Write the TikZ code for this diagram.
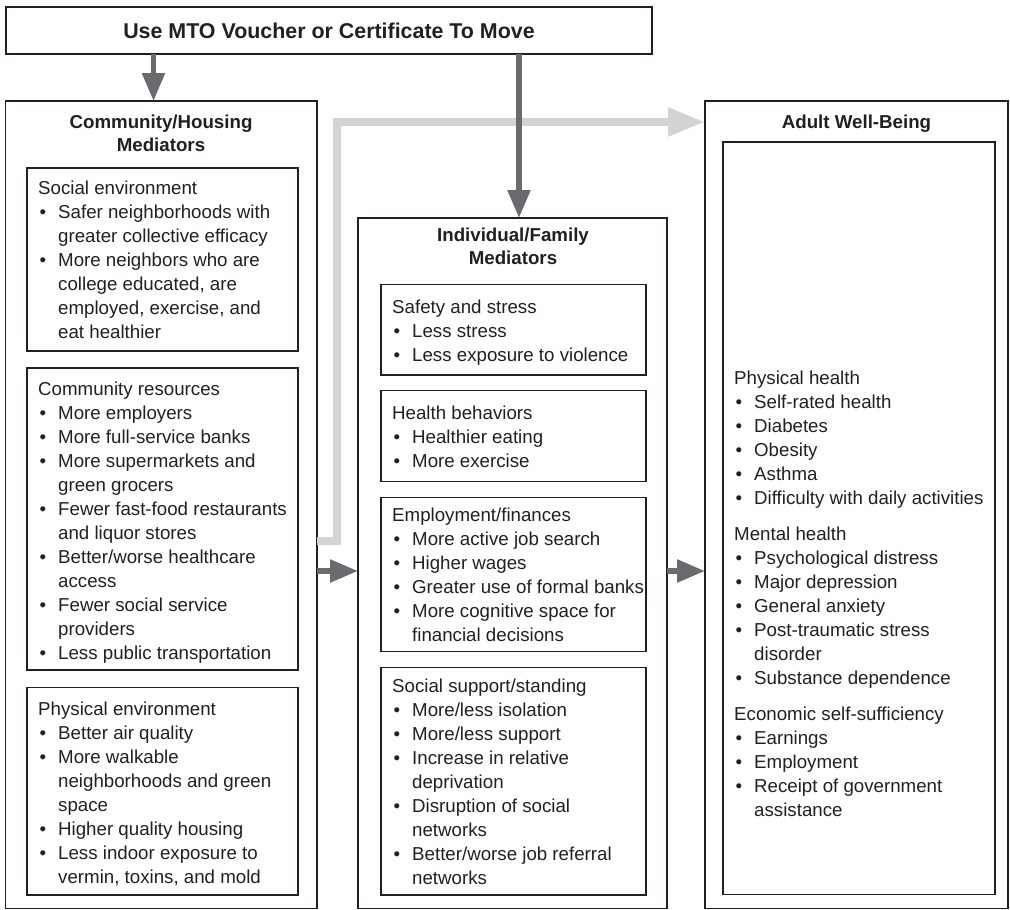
\documentclass[tikz,border=0pt]{standalone}
\usepackage{fontspec}
\setmainfont{Liberation Sans}
\usetikzlibrary{positioning,arrows.meta}

\definecolor{framecol}{HTML}{231F20}
\definecolor{arrowdark}{HTML}{6A6B6F}
\definecolor{arrowlight}{HTML}{D1D3D4}

\newcommand{\bdot}{\makebox[20pt][l]{\hspace{1.5pt}\textbullet}}
\newcommand{\wrapin}{\hspace*{20pt}}
\newcommand{\lstrut}{\rule{0pt}{17pt}}

\tikzset{
  outerframe/.style={draw=framecol, line width=1.4pt, anchor=north west, inner sep=0pt, outer sep=0pt},
  listbox/.style={draw=framecol, line width=1.2pt, anchor=north west, inner sep=0pt, outer sep=0pt},
  listtext/.style={anchor=north west, inner sep=0pt, align=left, text=framecol, font=\fontsize{18.7}{24}\selectfont},
  headtext/.style={anchor=north, inner sep=0pt, align=center, text=framecol, font=\fontsize{18.7}{22.5}\selectfont\bfseries},
  darkarrow/.style={draw=arrowdark, line width=5.5pt, -{Triangle[length=28pt,width=22pt]}},
  lightarrow/.style={draw=arrowlight, line width=8pt, -{Triangle[length=37pt,width=27pt]}}
}

\begin{document}
\begin{tikzpicture}[x=1pt, y=-1pt]
\useasboundingbox (0,0) rectangle (1010,910);

% top box
\node[outerframe, minimum width=646pt, minimum height=47pt, text=framecol,
      font=\fontsize{21.4}{24}\selectfont\bfseries] (move) at (6,7) {Use MTO Voucher or Certificate To Move};

% columns
\node[outerframe, minimum width=311.5pt, minimum height=807.5pt] (comm) at (5.5,101) {};
\node[outerframe, minimum width=309pt, minimum height=690.5pt] (indiv) at (358,218) {};
\node[outerframe, minimum width=303pt, minimum height=807.5pt] (adult) at (705,101) {};

\node[headtext] (commhead) at (161,111.5) {\lstrut Community/Housing\\Mediators};
\node[headtext] (indivhead) at (513,224.5) {\lstrut Individual/Family\\Mediators};
\node[headtext] (adulthead) at (856.5,111.5) {\lstrut Adult Well-Being};

% community/housing
\node[listbox, minimum width=271pt, minimum height=183pt] (social) at (27,168) {};
\node[listtext] (socialtxt) at (38,177.5) {\lstrut Social environment\\
  \bdot Safer neighborhoods with\\
  \wrapin greater collective efficacy\\
  \bdot More neighbors who are\\
  \wrapin college educated, are\\
  \wrapin employed, exercise, and\\
  \wrapin eat healthier};

\node[listbox, minimum width=271pt, minimum height=302pt] (resources) at (27,368) {};
\node[listtext] (resourcestxt) at (38,378.3) {\lstrut Community resources\\
  \bdot More employers\\
  \bdot More full-service banks\\
  \bdot More supermarkets and\\
  \wrapin green grocers\\
  \bdot Fewer fast-food restaurants\\
  \wrapin and liquor stores\\
  \bdot Better/worse healthcare\\
  \wrapin access\\
  \bdot Fewer social service\\
  \wrapin providers\\
  \bdot Less public transportation};

\node[listbox, minimum width=271pt, minimum height=207.5pt] (physenv) at (27,687.5) {};
\node[listtext] (physenvtxt) at (38,697.8) {\lstrut Physical environment\\
  \bdot Better air quality\\
  \bdot More walkable\\
  \wrapin neighborhoods and green\\
  \wrapin space\\
  \bdot Higher quality housing\\
  \bdot Less indoor exposure to\\
  \wrapin vermin, toxins, and mold};

% individual/family
\node[listbox, minimum width=265pt, minimum height=90.4pt] (safety) at (381,284.6) {};
\node[listtext] (safetytxt) at (392,296.3) {\lstrut Safety and stress\\
  \bdot Less stress\\
  \bdot Less exposure to violence};

\node[listbox, minimum width=265pt, minimum height=90.5pt] (health) at (381,390.7) {};
\node[listtext] (healthtxt) at (392,402.3) {\lstrut Health behaviors\\
  \bdot Healthier eating\\
  \bdot More exercise};

\node[listbox, minimum width=265pt, minimum height=154.5pt] (finance) at (381,497.2) {};
\node[listtext] (financetxt) at (392,504.5) {\lstrut Employment/finances\\
  \bdot More active job search\\
  \bdot Higher wages\\
  \bdot Greater use of formal banks\\
  \bdot More cognitive space for\\
  \wrapin financial decisions};

\node[listbox, minimum width=265pt, minimum height=227.2pt] (support) at (381,667.8) {};
\node[listtext] (supporttxt) at (392,675.5) {\lstrut Social support/standing\\
  \bdot More/less isolation\\
  \bdot More/less support\\
  \bdot Increase in relative\\
  \wrapin deprivation\\
  \bdot Disruption of social\\
  \wrapin networks\\
  \bdot Better/worse job referral\\
  \wrapin networks};

% adult well-being
\node[listbox, minimum width=272pt, minimum height=752.5pt] (outcomes) at (723,142) {};
\node[listtext] (outcomestxt) at (734,367.5) {\lstrut Physical health\\
  \bdot Self-rated health\\
  \bdot Diabetes\\
  \bdot Obesity\\
  \bdot Asthma\\
  \bdot Difficulty with daily activities\\[12pt]
  Mental health\\
  \bdot Psychological distress\\
  \bdot Major depression\\
  \bdot General anxiety\\
  \bdot Post-traumatic stress\\
  \wrapin disorder\\
  \bdot Substance dependence\\[12pt]
  Economic self-sufficiency\\
  \bdot Earnings\\
  \bdot Employment\\
  \bdot Receipt of government\\
  \wrapin assistance};

% arrows
\coordinate (leftdrop) at (153.5,0);
\coordinate (middrop) at (519,0);
\coordinate (graylow) at (337,541);
\coordinate (grayhigh) at (337,122);
\coordinate (sideline) at (0,571);

\draw[darkarrow] (move.south -| leftdrop) -- (comm.north -| leftdrop);
\draw[lightarrow] (comm.east |- graylow) -- (graylow) -- (grayhigh) -- (adult.west |- grayhigh);
\draw[darkarrow] (move.south -| middrop) -- (indiv.north -| middrop);
\draw[darkarrow] (comm.east |- sideline) -- (indiv.west |- sideline);
\draw[darkarrow] (indiv.east |- sideline) -- (adult.west |- sideline);
\end{tikzpicture}
\end{document}
